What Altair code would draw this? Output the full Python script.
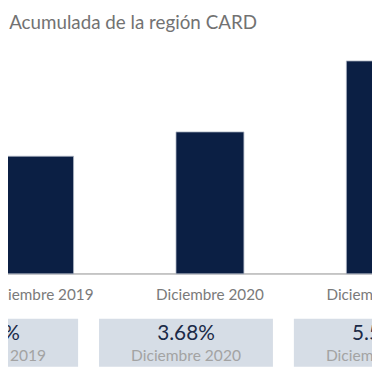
import altair as alt
import pandas as pd

title_text = "Inflación Acumulada de la región CARD"
categories = ["Diciembre 2019", "Diciembre 2020", "Diciembre 2021"]
values = [3.05, 3.68, 5.52]
value_labels = ["3.05%", "3.68%", "5.52%"]

df = pd.DataFrame({"cat": categories, "val": values, "lab": value_labels})

FONT = "Lato"
NAVY = "#0b1f44"

x_bar = alt.Scale(type="point", domain=categories, range=[32.3, 380.5], padding=0)
x_box = alt.Scale(type="point", domain=categories, range=[-17.2, 381.0], padding=0)
y_sc = alt.Scale(domain=[0, 6], range=[267.7, 31.2], nice=False, zero=True)

base = alt.Chart(df)

bars = base.mark_bar(color=NAVY, width=69.4, stroke="#aeb6c4", strokeWidth=0.8).encode(
    x=alt.X("cat:N", scale=x_bar, axis=None),
    y=alt.Y("val:Q", scale=y_sc, axis=None),
)

baseline = base.mark_rule(color="#c4c4c4", strokeWidth=1.5).encode(
    y=alt.value(267.7),
    x=alt.value(0),
    x2=alt.value(372),
)

cat_labels = base.mark_text(font=FONT, fontSize=15.6, color="#7a7a7a", baseline="middle").encode(
    x=alt.X("cat:N", scale=x_bar, axis=None),
    y=alt.value(289.1),
    text="cat:N",
)

boxes = base.mark_bar(color="#d6dde6", width=177.7).encode(
    x=alt.X("cat:N", scale=x_box, axis=None),
    y=alt.value(313.6),
    y2=alt.value(362.6),
)

box_vals = base.mark_text(font=FONT, fontSize=21.2, color="#1b2a47", baseline="middle").encode(
    x=alt.X("cat:N", scale=x_box, axis=None),
    y=alt.value(328.9),
    text="lab:N",
)

box_cats = base.mark_text(font=FONT, fontSize=15.9, color="#a3a3a3", baseline="middle").encode(
    x=alt.X("cat:N", scale=x_box, axis=None),
    y=alt.value(351.4),
    text="cat:N",
)

title = alt.Chart(pd.DataFrame({"t": [title_text]})).mark_text(
    font=FONT, fontSize=19.2, color="#727272", align="right", baseline="alphabetic"
).encode(
    x=alt.value(254.4),
    y=alt.value(17.5),
    text="t:N",
)

chart = (
    alt.layer(baseline, bars, cat_labels, boxes, box_vals, box_cats, title)
    .resolve_scale(x="independent")
    .properties(width=372, height=364, padding=0, autosize=alt.AutoSizeParams(type="none"))
    .configure_view(stroke=None)
)

chart.save("out.html", embed_options={"renderer": "svg", "actions": False})
